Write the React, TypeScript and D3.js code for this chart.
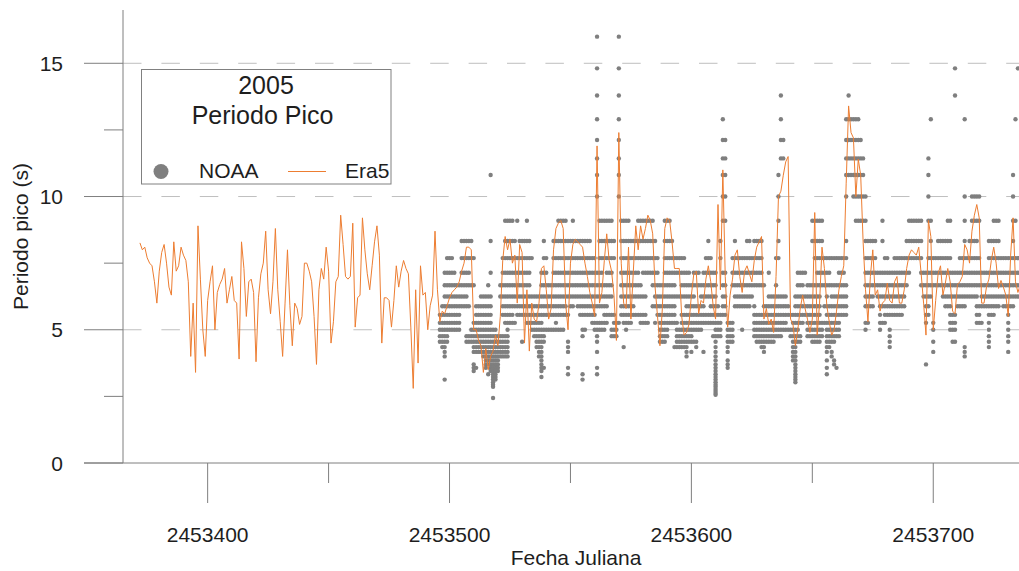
import React from 'react';
import * as d3 from 'd3';

const xTicksMajor = [2453400, 2453500, 2453600, 2453700];
const xTicksMinor = [2453450, 2453550, 2453650];
const yTicksMajor = [0, 5, 10, 15];
const yTicksMinor = [2.5, 7.5, 12.5];
const yGrid = [5, 10, 15];

// Era5 peak period, one value per day starting at 2453372
const era5Start = 2453372;
const era5 = [
  8.26, 8.0, 8.1, 7.7, 7.5, 7.4, 6.8, 6.0, 7.2, 7.9,
  8.2, 7.5, 6.6, 6.3, 8.3, 7.2, 7.4, 8.1, 7.8, 7.6,
  6.8, 4.0, 6.0, 3.4, 8.9, 6.9, 5.0, 4.0, 6.1, 6.8,
  7.4, 5.0, 6.4, 6.7, 6.9, 7.3, 6.0, 6.5, 7.0, 6.1,
  6.0, 3.9, 8.3, 7.3, 5.5, 6.8, 6.9, 6.4, 3.8, 6.2,
  7.1, 7.5, 8.7, 6.5, 5.6, 6.8, 8.8, 6.5, 5.3, 4.0,
  6.0, 8.0, 5.9, 4.4, 6.0, 5.8, 5.2, 5.5, 7.5, 7.5,
  7.2, 6.8, 5.5, 3.7, 6.5, 7.3, 6.9, 8.1, 7.2, 4.5,
  5.3, 6.8, 7.0, 9.3, 8.2, 7.0, 6.9, 7.0, 9.0, 5.1,
  6.2, 6.3, 9.2, 8.0, 7.1, 6.5, 7.4, 8.3, 8.9, 7.8,
  4.5, 6.2, 6.2, 6.1, 5.1, 6.1, 7.4, 6.6, 7.2, 7.6,
  7.3, 7.1, 5.1, 2.8, 6.5, 3.75, 7.4, 6.3, 6.4, 5.0,
  5.9, 6.3, 8.7, 6.5, 5.3, 5.7, 5.6, 5.9, 6.2, 6.4,
  6.5, 6.6, 6.8, 7.2, 7.5, 8.1, 8.1, 8.0, 5.0, 5.0,
  4.6, 4.4, 3.4, 4.3, 3.5, 4.0, 4.2, 4.8, 4.4, 5.5,
  7.6, 8.5, 8.0, 8.4, 7.5, 7.8, 6.0, 8.2, 7.9, 4.5,
  6.5, 4.2, 6.0, 5.4, 5.3, 6.0, 7.3, 7.4, 6.5, 5.4,
  5.8, 8.0, 8.8, 9.0, 9.1, 8.8, 6.0, 5.0, 7.5, 8.2,
  8.4, 8.3, 8.2, 8.1, 7.5, 7.0, 6.4, 6.0, 5.5, 11.9,
  6.0, 6.4, 7.6, 8.6, 7.6, 7.2, 6.3, 4.6, 12.4, 7.5,
  6.0, 5.8, 8.1, 5.4, 7.2, 8.9, 8.0, 8.9, 8.4, 8.8,
  9.3, 9.1, 8.6, 6.6, 5.5, 4.4, 5.8, 8.8, 9.2, 9.1,
  8.3, 7.3, 7.3, 7.3, 5.5, 4.8, 4.9, 5.2, 6.3, 7.1,
  7.2, 5.6, 6.1, 6.0, 6.9, 7.4, 6.8, 5.9, 5.4, 9.7,
  6.5, 11.0, 7.0, 5.1, 6.3, 6.9, 7.8, 8.0, 7.0, 6.4,
  7.2, 7.4, 7.1, 6.8, 7.6, 8.1, 8.3, 8.5, 5.4, 5.8,
  5.2, 5.4, 4.9, 7.0, 10.0, 10.2, 10.8, 11.3, 11.5, 5.4,
  5.2, 4.4, 5.0, 5.8, 6.3, 5.8, 5.4, 4.9, 5.4, 9.4,
  4.8, 6.0, 8.1, 7.3, 5.9, 5.3, 4.8, 5.0, 5.7, 6.5,
  7.0, 7.4, 10.5, 13.4, 12.4, 12.2, 10.0, 11.4, 10.8, 8.3,
  6.5, 5.3, 7.0, 8.0, 6.3, 6.5, 5.7, 6.0, 6.1, 6.75,
  6.1, 6.0, 6.8, 7.0, 6.0, 6.0, 6.5, 7.3, 7.8, 8.0,
  7.9, 7.8, 8.1, 7.1, 6.0, 4.8, 9.1, 8.5, 5.0, 6.1,
  7.1, 7.4, 6.3, 6.75, 7.3, 6.8, 5.7, 5.6, 6.7, 6.8,
  7.0, 8.2, 8.0, 7.5, 8.7, 9.3, 9.7, 9.2, 6.0, 6.0,
  6.6, 6.9, 7.6, 8.1, 7.5, 6.55, 6.85, 6.6, 6.3, 5.5,
  7.8, 9.2, 6.8, 6.4, 6.7,
];

// NOAA spectral period bins (s); each letter in the daily strings names one bin
const noaaBins = [
  16.0, 14.81, 13.79, 12.9, 12.12, 11.43, 10.81, 10.0, 9.09, 8.33,
  7.69, 7.14, 6.67, 6.25, 5.88, 5.56, 5.26, 5.0, 4.76, 4.55,
  4.35, 4.17, 4.0, 3.85, 3.7, 3.57, 3.45, 3.33, 3.23, 3.13,
  3.03, 2.94, 2.86, 2.78, 2.7, 2.63, 2.56, 2.5, 2.44,
];
const binCodes = 'ABCDEFGHIJKLMNOPQRSTUVWXYZabcdefghijklm';

// observed NOAA peak-period bins per day, starting at 2453496
const noaaStart = 2453496;
const noaaDays = [
  'PQRST', 'OPQRSTU', 'LMNOPQRSTUVWd', 'KLMNOPQRST', 'KLMNOPQR',
  'KLMNOPQR', 'LMNOPQR', 'MNOPQR', 'MNOPQR', 'JKLMNO',
  'JKLMNO', 'JKLMNOST', 'JKLMOST', 'JKMRST', 'KMQRSTUVYZa',
  'OPQRSTUVZ', 'OPQRSTUV', 'NOPQRSTUV', 'NOPQRSTUVW', 'NOPQRSTUVWXYZ',
  'MNOPQRSTUVWXYb', 'GJLNOPQRSTUVWXYZa', 'RSTUVWXYZabcdefgm', 'RSTUVWXYZabcd', 'STUVWXYZa',
  'MNSTUVW', 'KLMNOPSTUVW', 'IJKLMNOPQSTUVW', 'IJKLMNOPQRSTUVW', 'IJKLMNOPQ',
  'IJKLMNOPQ', 'JKLMNOQ', 'IKLMNOP', 'JKLMNOP', 'JKLMNOPT',
  'JKLMNOP', 'IJKLMNOPQ', 'JKLMNOPQ', 'KNOPQR', 'NOPQRS',
  'NOPQRSTU', 'NOPQRSTUVW', 'LMNOPQRSTUVWXYZac', 'JKLMNOPRSTZ', 'KLMNOPR',
  'MNOPR', 'MNOPR', 'JKLMNOPR', 'JKLMNOPQR', 'IJKLMNOPR',
  'IJKLMNOPR', 'IJKLMNOPR', 'IJKLMNOP', 'JKLMNPTUVZb', 'JKLMNO',
  'IJKLMNO', 'JKLMN', 'JKLMNO', 'JKLMNOP', 'JKLMNOPRSbd',
  'JKLMNOPR', 'JKLMNOP', 'JKLMNOP', 'KLMNOPQ', 'KLMNOPQR',
  'ABCDEFGHLMNOQRSTVZb', 'IJKLMNOQR', 'IJKLMNOQR', 'IJKMNOPQR', 'IJKLMNOPQ',
  'IJKLMNP', 'IJKLMNPRS', 'JKPQRS', 'QRS', 'ABCDEFGHQ',
  'IJKLMNOP', 'IJKLMNOPQU', 'IJKLMNOPQR', 'IJKLMNOPQ', 'JKLMNOPQ',
  'JKLMNOP', 'JKLMNP', 'IJKLMNP', 'IJKMNPQ', 'IJKLNPQ',
  'IJKLNPQ', 'IJKLQ', 'IJKL', 'IJKLMO', 'JKLMNOQ',
  'KLMNOP', 'MNOPQRST', 'MNOPQRST', 'IJKLMNOPQRST', 'IJKLMNOPQRS',
  'IJKLMNOPQ', 'JKLMNOPQ', 'KLMNOPQU', 'KLNQRSTU', 'KLNRSTU',
  'KLMNPQRSTU', 'KLMNPQRSTU', 'LMNOPQRSTUVW', 'LMNOPQRST', 'MNOPQRSTV',
  'LMNOPQRT', 'LMOPQRTU', 'LMOPQR', 'MNOPQR', 'LMNOPQV',
  'KLMNPQ', 'JKLMNPQ', 'KLMNOPQ', 'LMNOPQS', 'LMNOPQRSTUVWXYZabcdefghijk',
  'OPQRS', 'JKPQRS', 'DEFGHILMNOP', 'EFGHILMNOP', 'QRSTUVXYZ',
  'QRST', 'KLMQRST', 'JKLMNO', 'KLMNO', 'KLMNO',
  'KLMNOR', 'KLMNO', 'JKLMNO', 'JKLMNO', 'KLMN',
  'JKLMOPQRS', 'JKLMPQRST', 'JKLMPQRST', 'JKLMPQRSTU', 'MOPQRSTUV',
  'OPQRST', 'LNOPQRST', 'NOPQRST', 'NOPQRST', 'KMNOPQRS',
  'GHIJKNOPQRS', 'CDEFNOPQRS', 'EFNOPQR', 'NOPQR', 'OPR',
  'PRS', 'PQRSTUVWX', 'NOPQRSTUVWXYZabcde', 'LMNOPQRST', 'LMNOPQST',
  'LMNOPQ', 'LNOP', 'MNOPQRS', 'MNOPQRS', 'IJMNOPQRST',
  'IJKMNOPQRST', 'IJKLMNOPQRST', 'IJKLMNOPQRST', 'IJKLMQRS', 'KLMOQ',
  'KLMNOPQRSTUVXZb', 'KLMOPQRSTU', 'KMNOPQRSTVW', 'KMNOPQRSTXY', 'KMNOPQRSZ',
  'KLMNOPQRS', 'KLMNOP', 'KLMNOP', 'DEFGHJKMNOP', 'CDEFG',
  'DEFG', 'DEFGH', 'DEFGHI', 'DEFGHI', 'EFGHI',
  'FGHI', 'HIJKLMNOQR', 'JKLMNOQ', 'JKLMNO', 'JKLMNO',
  'JKLM', 'LMN', 'LMNOPQR', 'IJLMNOQ', 'KLMNOPQ',
  'KLMNOP', 'LMNOPRSTU', 'LMNOP', 'KLMNOP', 'KLMNOP',
  'KLMNOP', 'KLMNOP', 'KLMNO', 'JKLM', 'IJKL',
  'IJK', 'IJK', 'IJK', 'IJK', 'IJKLM',
  'LMN', 'LMNOPQY', 'FGHIKLMNOP', 'DIJKLMN', 'KLMQRTV',
  'KLM', 'JKLM', 'JKLM', 'JKLMN', 'JKLMNO',
  'IJKLMNO', 'IJKLMNOPQR', 'LMNPQRT', 'BCLMNPQRT', 'LMNO',
  'KLMNO', 'KLMNO', 'DHIJKLMNOUVW', 'KLMN', 'JKLMN',
  'HIJKLMN', 'HIJKLMN', 'HIJKLMNOPQ', 'HIKLMOPQ', 'LMNOQ',
  'LMNO', 'LMNO', 'JKLMNOPQRSTU', 'JKLMNOP', 'IJKLMNOP',
  'IJKLMNO', 'IJKLMNO', 'KLMN', 'KLMNO', 'KLMNO',
  'KLMNOPQRSTV', 'KLMNO', 'GHIJKLMNO', 'DIKLMN', 'BKLMN',
];

const FONT = '"Liberation Sans", Arial, Helvetica, sans-serif';
const AXIS = '#7f7f7f';
const TEXT = '#1e1e1e';
const ORANGE = '#ED7D31';
const GRAY = '#7F7F7F';

export default function App() {
  const W = 1019;
  const H = 571;
  const x = d3.scaleLinear().domain([2453365, 2453740]).range([123, 1030]);
  const y = d3.scaleLinear().domain([0, 17]).range([463, 10]);

  const linePath = d3
    .line<number>()
    .x((_, i) => x(era5Start + i))
    .y((v) => y(v))(era5) as string;

  const dots: { d: number; v: number }[] = [];
  noaaDays.forEach((codes, k) => {
    for (const ch of codes) {
      const idx = binCodes.indexOf(ch);
      if (idx >= 0) dots.push({ d: noaaStart + k, v: noaaBins[idx] });
    }
  });

  const x0 = x.range()[0];
  const y0 = y(0);

  return (
    <svg
      width={W}
      height={H}
      style={{ position: 'absolute', left: 0, top: 0, background: '#fff' }}
      fontFamily={FONT}
    >
      <rect x={0} y={0} width={W} height={H} fill="#fff" />
      {/* dashed grid */}
      {yGrid.map((t) => (
        <line
          key={'g' + t}
          x1={x0}
          x2={W}
          y1={y(t)}
          y2={y(t)}
          stroke="#bfbfbf"
          strokeWidth={1}
          strokeDasharray="18.5 19.9"
        />
      ))}
      {/* NOAA dots */}
      <g fill={GRAY}>
        {dots.map((p, i) => (
          <circle key={i} cx={x(p.d)} cy={y(p.v)} r={2.2} />
        ))}
      </g>
      {/* Era5 line */}
      <path d={linePath} fill="none" stroke={ORANGE} strokeWidth={1} strokeLinejoin="round" />

      {/* axes */}
      <line x1={x0} x2={x0} y1={y(17)} y2={y0} stroke={AXIS} strokeWidth={1} />
      <line x1={x0 - 39} x2={W} y1={y0} y2={y0} stroke={AXIS} strokeWidth={1} />
      {yTicksMajor.map((t) => (
        <g key={'ym' + t}>
          <line x1={x0 - 39} x2={x0} y1={y(t)} y2={y(t)} stroke={AXIS} strokeWidth={1} />
          <text x={63} y={y(t) + 7.5} textAnchor="end" fontSize={21} fill={TEXT}>
            {t}
          </text>
        </g>
      ))}
      {yTicksMinor.map((t) => (
        <line key={'yn' + t} x1={x0 - 19} x2={x0} y1={y(t)} y2={y(t)} stroke={AXIS} strokeWidth={1} />
      ))}
      {xTicksMajor.map((t) => (
        <g key={'xm' + t}>
          <line x1={x(t)} x2={x(t)} y1={y0} y2={y0 + 40} stroke={AXIS} strokeWidth={1} />
          <text x={x(t)} y={541.5} textAnchor="middle" fontSize={21} fill={TEXT}>
            {t}
          </text>
        </g>
      ))}
      {xTicksMinor.map((t) => (
        <line key={'xn' + t} x1={x(t)} x2={x(t)} y1={y0} y2={y0 + 20} stroke={AXIS} strokeWidth={1} />
      ))}

      {/* axis titles */}
      <text x={576} y={565} textAnchor="middle" fontSize={21} fill={TEXT}>
        Fecha Juliana
      </text>
      <text
        transform={`translate(28, ${(y(17) + y0) / 2}) rotate(-90)`}
        textAnchor="middle"
        fontSize={21}
        fill={TEXT}
      >
        Periodo pico (s)
      </text>

      {/* legend */}
      <rect x={141.5} y={69.5} width={249.5} height={114.5} fill="#fff" stroke="#808080" strokeWidth={1} />
      <text x={266} y={93.5} textAnchor="middle" fontSize={25} fill={TEXT}>
        2005
      </text>
      <text x={262.5} y={124} textAnchor="middle" fontSize={25} fill={TEXT}>
        Periodo Pico
      </text>
      <circle cx={161} cy={171.5} r={7.5} fill={GRAY} />
      <text x={199} y={178} fontSize={21} fill={TEXT}>
        NOAA
      </text>
      <line x1={288} x2={326} y1={171.5} y2={171.5} stroke={ORANGE} strokeWidth={1} />
      <text x={345} y={178} fontSize={21} fill={TEXT}>
        Era5
      </text>
    </svg>
  );
}
